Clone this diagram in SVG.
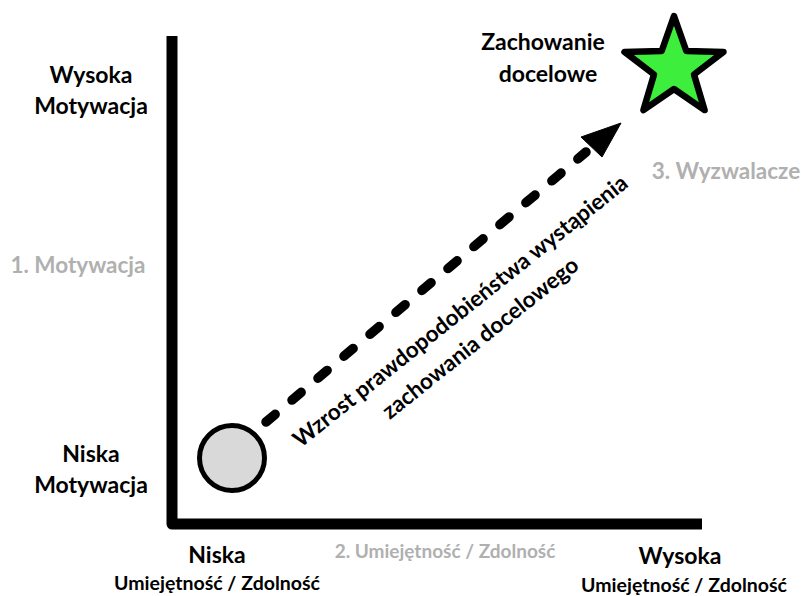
<svg xmlns="http://www.w3.org/2000/svg" width="801" height="596" viewBox="0 0 801 596">
<style>
text{font-family:Lato,"Open Sans","Liberation Sans",sans-serif;font-weight:bold;text-anchor:middle}
.lbl{font-size:23px;fill:#000}
.sub{font-size:19.5px;fill:#000}
.dim{font-size:22.5px;fill:#b0b0b0}
.dim2{font-size:19px;fill:#b0b0b0}
.diag{font-size:22.5px;fill:#000}
</style>
<rect width="801" height="596" fill="#fff"/>
<g id="axes">
<path d="M172,36 V524 H702" fill="none" stroke="#000" stroke-width="11" stroke-linejoin="round"/>
</g>
<g id="connectors">
<path d="M266,422 L586,152" fill="none" stroke="#000" stroke-width="9.5" stroke-linecap="round" stroke-dasharray="12 22"/>
<polygon points="621,123 581,137 602,157" fill="#000" stroke="#000" stroke-width="1" stroke-linejoin="round"/>
</g>
<g id="start">
<circle cx="232" cy="458" r="32.5" fill="#d9d9d9" stroke="#000" stroke-width="5"/>
</g>
<g id="target">
<polygon points="674,16 686.3,51 723.5,51.9 694,74.5 704.6,110.1 674,89 643.4,110.1 654,74.5 624.5,51.9 661.7,51" fill="#3dee3d" stroke="#000" stroke-width="6.5" stroke-linejoin="round"/>
<text class="lbl" x="543" y="50">Zachowanie</text>
<text class="lbl" x="548" y="82">docelowe</text>
</g>
<g id="y-high">
<text class="lbl" x="91" y="83">Wysoka</text>
<text class="lbl" x="91" y="114">Motywacja</text>
</g>
<g id="y-low">
<text class="lbl" x="91" y="462">Niska</text>
<text class="lbl" x="91" y="493">Motywacja</text>
</g>
<g id="y-title">
<text class="dim" x="78" y="273">1. Motywacja</text>
</g>
<g id="x-low">
<text class="lbl" x="217" y="563">Niska</text>
<text class="sub" x="217" y="590">Umiejętność / Zdolność</text>
</g>
<g id="x-title">
<text class="dim2" x="445" y="558">2. Umiejętność / Zdolność</text>
</g>
<g id="x-high">
<text class="lbl" x="680" y="564">Wysoka</text>
<text class="sub" x="684" y="592">Umiejętność / Zdolność</text>
</g>
<g id="triggers">
<text class="dim" x="726" y="179">3. Wyzwalacze</text>
</g>
<g id="arrow-label">
<text class="diag" transform="translate(465,317) rotate(-38.6)">Wzrost prawdopodobieństwa wystąpienia</text>
<text class="diag" transform="translate(485,344) rotate(-38.6)">zachowania docelowego</text>
</g>
</svg>
